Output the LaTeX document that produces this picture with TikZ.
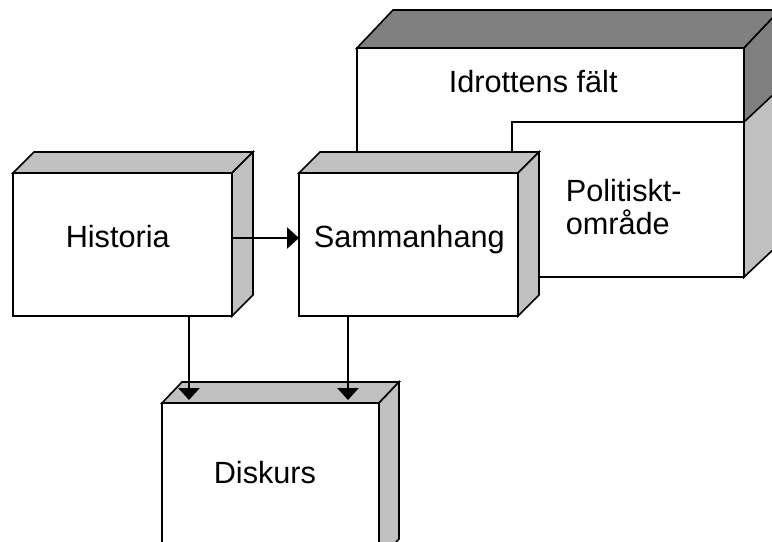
\documentclass[tikz,border=0pt]{standalone}
\usepackage{fontspec}
\setmainfont{Liberation Sans}
\usetikzlibrary{arrows.meta}
\definecolor{sidegray}{RGB}{192,192,192}
\definecolor{topgray}{RGB}{128,128,128}
\tikzset{every picture/.style={line width=1.2pt}}

\begin{document}
\begin{tikzpicture}[x=0.75pt,y=0.75pt,yscale=-1,xscale=1,
	face/.style={draw,fill=white,inner sep=0pt,outer sep=0pt},
	boxtext/.style={font=\fontsize{23}{22}\selectfont,inner sep=0pt,anchor=base west},
	flow/.style={-{Triangle[length=9pt,width=16pt]}}]
	%set diagram size 772 x 542
	\useasboundingbox (0,0) rectangle (772,542);
	\clip (0,0) rectangle (772,542);

	%Shape: Cube [id:idrottens]
	\node [face,minimum width=290.25pt,minimum height=171.75pt] (idr) at (550.5,162.5) {};
	\draw [fill=topgray] (idr.north west) -- ++(36,-38) -- ++(387,0) -- (idr.north east) -- cycle ;
	\draw [fill=topgray] (idr.north east) -- ++(36,-38) -- ++(0,229) -- (idr.south east) -- cycle ;
	%Shape: Rectangle [id:politiskt]
	\node [face,minimum width=174pt,minimum height=116.25pt] (pol) at (628,199.5) {};
	\draw [fill=sidegray] (pol.north east) -- ++(32,-30) -- ++(0,155) -- (pol.south east) -- cycle ;

	%Shape: Cube [id:sammanhang]
	\node [face,minimum width=164.25pt,minimum height=107.25pt] (samm) at (408.5,244.5) {};
	\draw [fill=sidegray] (samm.north west) -- ++(21,-21) -- ++(219,0) -- (samm.north east) -- cycle ;
	\draw [fill=sidegray] (samm.north east) -- ++(21,-21) -- ++(0,143) -- (samm.south east) -- cycle ;
	%Shape: Cube [id:historia]
	\node [face,minimum width=164.25pt,minimum height=107.25pt] (hist) at (122.5,244.5) {};
	\draw [fill=sidegray] (hist.north west) -- ++(21,-21) -- ++(219,0) -- (hist.north east) -- cycle ;
	\draw [fill=sidegray] (hist.north east) -- ++(21,-21) -- ++(0,143) -- (hist.south east) -- cycle ;
	%Shape: Cube [id:diskurs]
	\node [face,minimum width=162.75pt,minimum height=117.75pt] (disk) at (270.5,481.5) {};
	\draw [fill=sidegray] (disk.north west) -- ++(20,-21) -- ++(217,0) -- (disk.north east) -- cycle ;
	\draw [fill=sidegray] (disk.north east) -- ++(20,-21) -- ++(0,157) -- (disk.south east) -- cycle ;

	%Straight Lines [id:arrows]
	\coordinate (dh) at (189,400);
	\coordinate (ds) at (348,400);
	\draw [flow] (hist.east |- 0,238) -- (samm.west |- 0,238) ;
	\draw [flow] (hist.south -| dh) -- (dh) ;
	\draw [flow] (samm.south -| ds) -- (ds) ;

	% Text Node
	\node [boxtext] at (448,93) {Idrottens fält};
	% Text Node
	\node [boxtext,anchor=north west,align=left] at (565,178) {Politiskt-\\[3pt]område};
	% Text Node
	\node [boxtext] at (65,247) {Historia};
	% Text Node
	\node [boxtext] at (313,247) {Sammanhang};
	% Text Node
	\node [boxtext] at (213,483) {Diskurs};

\end{tikzpicture}
\end{document}
